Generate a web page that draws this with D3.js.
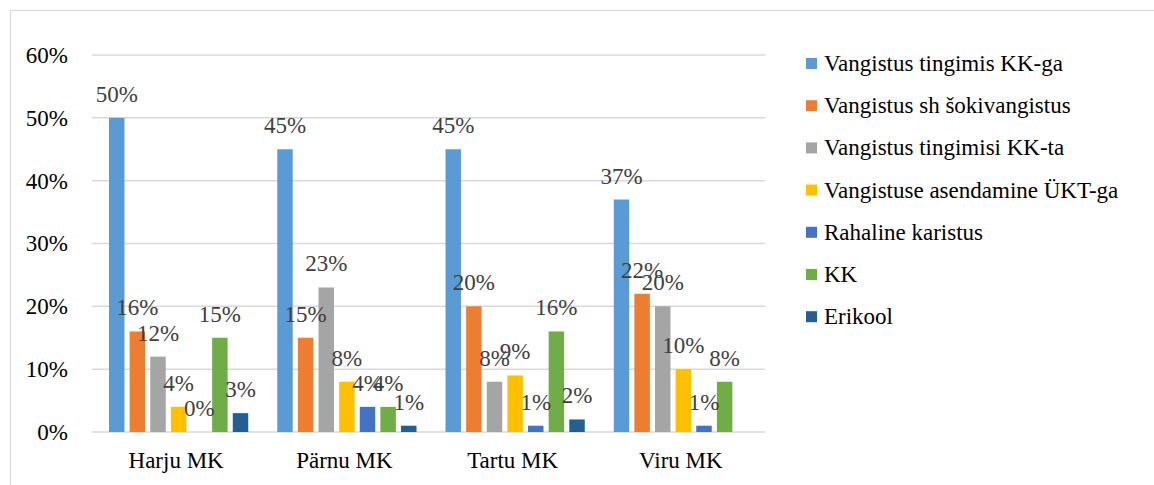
<!DOCTYPE html>
<html>
<head>
<meta charset="utf-8">
<script src="https://cdn.jsdelivr.net/npm/d3@7"></script>
<style>
  body { margin: 0; background: #fff; }
</style>
</head>
<body>
<svg id="chart"></svg>
<script>
var regions = ["Harju MK", "Pärnu MK", "Tartu MK", "Viru MK"];
var seriesNames = ["Vangistus tingimis KK-ga", "Vangistus sh šokivangistus", "Vangistus tingimisi KK-ta",
                   "Vangistuse asendamine ÜKT-ga", "Rahaline karistus", "KK", "Erikool"];
var seriesColors = ["#5B9BD5", "#ED7D31", "#A5A5A5", "#FFC000", "#4472C4", "#70AD47", "#255E91"];
// values per series, one per region (null = no bar)
var tingimisKKga   = [0.50, 0.45, 0.45, 0.37];
var shokivangistus = [0.16, 0.15, 0.20, 0.22];
var tingimisiKKta  = [0.12, 0.23, 0.08, 0.20];
var asendamineUKT  = [0.04, 0.08, 0.09, 0.10];
var rahaline       = [0.00, 0.04, 0.01, 0.01];
var kk             = [0.15, 0.04, 0.16, 0.08];
var erikool        = [0.03, 0.01, 0.02, null];
var yTicks = [0, 0.1, 0.2, 0.3, 0.4, 0.5, 0.6];

var allSeries = [tingimisKKga, shokivangistus, tingimisiKKta, asendamineUKT, rahaline, kk, erikool];

var fontFamily = '"Liberation Serif", "Times New Roman", Times, serif';
var fontSize = 23;

var screen = {width: 1154, height: 485};
var margins = {top: 55, left: 92, right: 389, bottom: 53};
var graph = {
    width: screen.width - margins.left - margins.right,
    height: screen.height - margins.top - margins.bottom
};

var svg = d3.select("#chart")
    .attr("width", screen.width)
    .attr("height", screen.height)
    .attr("font-family", fontFamily);

svg.append("rect")
    .attr("x", 10.5).attr("y", 10.5)
    .attr("width", 1160).attr("height", 500)
    .attr("fill", "none")
    .attr("stroke", "#d9d9d9")
    .attr("stroke-width", 1.2);

var g = svg.append("g")
    .attr("transform", "translate(" + margins.left + "," + margins.top + ")");

var xScale = d3.scaleBand()
    .domain(regions)
    .range([0, graph.width]);

var inner = d3.scaleBand()
    .domain(d3.range(seriesNames.length))
    .range([17, xScale.bandwidth() - 12])
    .paddingInner(0.25);

var yScale = d3.scaleLinear()
    .domain([0, 0.6])
    .range([graph.height, 0]);

// gridlines
g.append("g")
    .selectAll("line")
    .data(yTicks)
    .enter()
    .append("line")
    .attr("x1", 0)
    .attr("x2", graph.width)
    .attr("y1", function(d) { return yScale(d); })
    .attr("y2", function(d) { return yScale(d); })
    .attr("stroke", "#d9d9d9")
    .attr("stroke-width", 1.5);

// y axis labels
var yAxis = d3.axisLeft(yScale)
    .tickValues(yTicks)
    .tickFormat(d3.format(".0%"))
    .tickSize(0)
    .tickPadding(24);
var ya = g.append("g").call(yAxis).attr("font-family", null);
ya.select(".domain").remove();
ya.selectAll("text")
    .attr("font-size", fontSize)
    .attr("fill", "#000");

// x axis labels
var xAxis = d3.axisBottom(xScale).tickSize(0).tickPadding(20);
var xa = g.append("g")
    .attr("transform", "translate(0," + graph.height + ")")
    .call(xAxis)
    .attr("font-family", null);
xa.select(".domain").remove();
xa.selectAll("text")
    .attr("font-size", fontSize)
    .attr("fill", "#000");

// bars
var groups = g.selectAll(".region")
    .data(regions)
    .enter()
    .append("g")
    .attr("class", "region")
    .attr("transform", function(r) { return "translate(" + xScale(r) + ",0)"; });

groups.each(function(r, ri) {
    var cells = allSeries.map(function(s, si) { return {si: si, v: s[ri]}; })
        .filter(function(c) { return c.v !== null; });
    var grp = d3.select(this);
    grp.selectAll("rect")
        .data(cells)
        .enter()
        .append("rect")
        .attr("x", function(c) { return inner(c.si); })
        .attr("width", inner.bandwidth())
        .attr("y", function(c) { return yScale(c.v); })
        .attr("height", function(c) { return graph.height - yScale(c.v); })
        .attr("fill", function(c) { return seriesColors[c.si]; });
    grp.selectAll("text.lbl")
        .data(cells)
        .enter()
        .append("text")
        .attr("class", "lbl")
        .attr("x", function(c) { return inner(c.si) + inner.bandwidth() / 2; })
        .attr("y", function(c) { return yScale(c.v) - 16; })
        .attr("text-anchor", "middle")
        .attr("font-size", fontSize)
        .attr("fill", "#404040")
        .text(function(c) { return d3.format(".0%")(c.v); });
});

// legend
var legend = svg.append("g")
    .attr("transform", "translate(806,58)");
var entries = legend.selectAll("g")
    .data(seriesNames)
    .enter()
    .append("g")
    .attr("transform", function(d, i) { return "translate(0," + (i * 42.2) + ")"; });
entries.append("rect")
    .attr("width", 11)
    .attr("height", 11)
    .attr("fill", function(d, i) { return seriesColors[i]; });
entries.append("text")
    .attr("x", 18)
    .attr("y", 13)
    .attr("font-size", fontSize)
    .attr("fill", "#000")
    .text(function(d) { return d; });
</script>
</body>
</html>
